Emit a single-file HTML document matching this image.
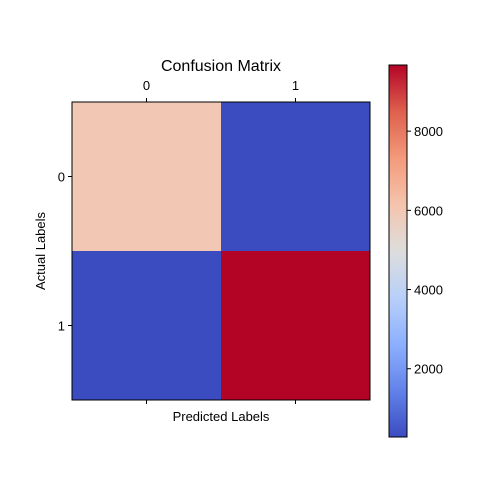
<!DOCTYPE html>
<html><head><meta charset="utf-8"><style>
body{margin:0;background:#fff;}
svg text{font-family:"Liberation Sans","DejaVu Sans",sans-serif;fill:#000;}
</style></head><body>
<svg id="c" width="480" height="480" xmlns="http://www.w3.org/2000/svg">
<defs><linearGradient id="cg" x1="0" y1="1" x2="0" y2="0"></linearGradient></defs>
<g id="cells"></g>
<rect x="72" y="102" width="298" height="298" fill="none" stroke="#000" stroke-width="1"/>
<text x="221" y="71" font-size="16" text-anchor="middle">Confusion Matrix</text>
<text x="221" y="421" font-size="13" text-anchor="middle">Predicted Labels</text>
<text transform="translate(45,251) rotate(-90)" font-size="13" text-anchor="middle">Actual Labels</text>
<g id="ticks"></g>
<rect x="389" y="65" width="18" height="372" fill="url(#cg)"/>
<rect x="389" y="65" width="18" height="372" fill="none" stroke="#000" stroke-width="1"/>
<g id="cbticks"></g>
</svg>
<script>
const labels=["0","1"];
const matrix=[[5980,280],[276,9671]];
const cbTicks=[2000,4000,6000,8000];
const NS="http://www.w3.org/2000/svg";
const stops=[[59,76,192],[98,130,234],[141,176,254],[184,208,249],[221,221,221],[245,196,173],[244,154,123],[222,96,77],[180,4,38]];
function cmap(t){t=Math.max(0,Math.min(1,t));const f=t*(stops.length-1);const i=Math.min(stops.length-2,Math.floor(f));const r=f-i;const a=stops[i],b=stops[i+1];return `rgb(${a.map((v,k)=>Math.round(v+(b[k]-v)*r)).join(",")})`;}
const flat=matrix.flat();const vmin=Math.min(...flat),vmax=Math.max(...flat);
const X0=72,Y0=102,S=298,n=labels.length,cw=S/n;
const cells=document.getElementById('cells');
matrix.forEach((row,i)=>row.forEach((v,j)=>{const r=document.createElementNS(NS,'rect');
r.setAttribute('x',X0+j*cw);r.setAttribute('y',Y0+i*cw);r.setAttribute('width',cw);r.setAttribute('height',cw);
r.setAttribute('fill',cmap((v-vmin)/(vmax-vmin)));


cells.appendChild(r);}));
const tk=document.getElementById('ticks');
function line(g,x1,y1,x2,y2){const l=document.createElementNS(NS,'line');l.setAttribute('x1',x1);l.setAttribute('y1',y1);l.setAttribute('x2',x2);l.setAttribute('y2',y2);l.setAttribute('stroke','#000');l.setAttribute('stroke-width','1');


g.appendChild(l);}
function txt(g,x,y,s,anchor,name){const t=document.createElementNS(NS,'text');t.setAttribute('x',x);t.setAttribute('y',y);t.setAttribute('font-size','13');t.setAttribute('text-anchor',anchor);t.textContent=s;


g.appendChild(t);}
labels.forEach((l,k)=>{const c=X0+(k+0.5)*cw;const cy=Y0+(k+0.5)*cw;
line(tk,c,Y0,c,Y0-4);line(tk,c,Y0+S,c,Y0+S+4);line(tk,X0,cy,X0-4,cy);
txt(tk,c,90,l,'middle','x-tick-label');txt(tk,65,cy+5,l,'end','y-tick-label');});
const g=document.getElementById('cg');
for(let i=0;i<=16;i++){const s=document.createElementNS(NS,'stop');s.setAttribute('offset',(i/16));s.setAttribute('stop-color',cmap(i/16));g.appendChild(s);}
const cb=document.getElementById('cbticks');const CT=65,CB=437;
cbTicks.forEach(v=>{const y=CB-(v-vmin)/(vmax-vmin)*(CB-CT);line(cb,407,y,411,y);txt(cb,414,y+5,String(v),'start','colorbar-tick-label');});
</script>
</body></html>
